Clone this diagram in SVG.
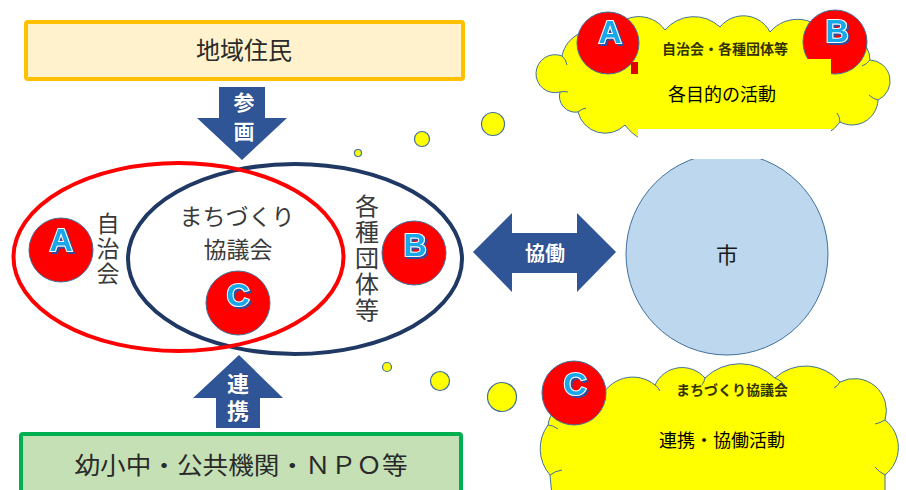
<svg xmlns="http://www.w3.org/2000/svg" width="906" height="490" viewBox="0 0 906 490">
<defs>
<filter id="sh" x="-30%" y="-30%" width="160%" height="160%">
<feDropShadow dx="2" dy="2" stdDeviation="0" flood-color="#2E4FA0" flood-opacity="1"/>
</filter>
</defs>
<style>
.jp{font-family:"Noto Sans CJK JP","Noto Sans",sans-serif;}
.lbl{font-family:"Noto Sans CJK JP",sans-serif;font-size:23px;fill:#3a3a3a;text-anchor:middle;dominant-baseline:central;}
.vlbl{font-family:"Noto Sans CJK JP",sans-serif;fill:#3a3a3a;writing-mode:vertical-rl;text-anchor:start;}
.arrtxt{font-family:"Noto Sans CJK JP",sans-serif;font-weight:bold;fill:#ffffff;text-anchor:middle;dominant-baseline:central;stroke:#1f3d75;stroke-width:0.6;paint-order:stroke;}
.varrtxt{font-family:"Noto Sans CJK JP",sans-serif;font-weight:bold;fill:#ffffff;writing-mode:vertical-rl;text-anchor:start;stroke:#1f3d75;stroke-width:0.6;paint-order:stroke;}
.arrow{fill:#2F5597;}
.badge{fill:#FF0000;stroke:#41719C;stroke-width:1;}
.let{font-family:"Liberation Sans",Arial,sans-serif;font-weight:bold;font-size:32px;text-anchor:middle;dominant-baseline:central;fill:#18A8E8;stroke:#ffffff;stroke-width:2;paint-order:stroke;filter:url(#sh);}
.cloud{fill:#FFFF00;stroke:#41719C;stroke-width:1;}
.inner{fill:none;stroke:#41719C;stroke-width:1;}
.bub{fill:#FFFF00;stroke:#41719C;stroke-width:1.2;}
.ctitle{font-family:"Noto Sans CJK JP",sans-serif;font-weight:bold;font-size:14px;fill:#333300;text-anchor:middle;dominant-baseline:central;}
.ctext{font-family:"Noto Sans CJK JP",sans-serif;font-size:18px;fill:#000000;text-anchor:middle;dominant-baseline:central;}
</style>

<g id="residents">
<rect x="26" y="22" width="437" height="57" rx="2" fill="#FFF2CC" stroke="#FFC000" stroke-width="4"/>
<text class="jp" x="244" y="48" font-size="24" fill="#2a2a2a" text-anchor="middle" dominant-baseline="central">地域住民</text>
</g>

<g id="partners">
<rect x="21" y="434" width="440" height="70" rx="2" fill="#C5E0B4" stroke="#00B050" stroke-width="4"/>
<text class="jp" x="241" y="463" font-size="24" fill="#2a2a2a" text-anchor="middle" dominant-baseline="central" textLength="333" lengthAdjust="spacingAndGlyphs">幼小中・公共機関・ＮＰＯ等</text>
</g>

<g id="connectors">
<g id="arrow-sankaku">
<polygon class="arrow" points="219,87 265,87 265,118 287,118 242,160 197,118 219,118"/>
<text class="varrtxt" x="244" y="92" font-size="21" letter-spacing="8">参画</text>
</g>
<g id="arrow-renkei">
<polygon class="arrow" points="239,355 283,398 260,398 260,428 216,428 216,398 193,398"/>
<text class="varrtxt" x="238" y="373" font-size="22" letter-spacing="5">連携</text>
</g>
<g id="arrow-kyodo">
<polygon class="arrow" points="473,252 512,213 512,233 577,233 577,213 616,252 577,292 577,273 512,273 512,292"/>
<text class="arrtxt" x="545" y="252" font-size="20">協働</text>
</g>
<g id="bubbles">
<circle class="bub" cx="358" cy="153" r="3.5"/>
<circle class="bub" cx="422" cy="139" r="7.5"/>
<circle class="bub" cx="493" cy="124" r="11.5"/>
<circle class="bub" cx="387" cy="367" r="4.5"/>
<circle class="bub" cx="440" cy="381" r="9.5"/>
<circle class="bub" cx="502" cy="397" r="14.5"/>
</g>
</g>

<g id="groups">
<ellipse cx="295" cy="259" rx="167" ry="95" fill="none" stroke="#1F3864" stroke-width="4"/>
<ellipse cx="178.5" cy="257" rx="165" ry="94" fill="none" stroke="#FF0000" stroke-width="4"/>
</g>

<g id="jichikai">
<text class="vlbl" x="108" y="212" font-size="23" letter-spacing="2">自治会</text>
<circle class="badge" cx="61" cy="250" r="32"/>
<text class="let" x="61" y="240">A</text>
</g>

<g id="machizukuri">
<text class="lbl" x="237" y="215" font-size="24">まちづくり</text>
<text class="lbl" x="238" y="248" font-size="24">協議会</text>
<circle class="badge" cx="238" cy="303" r="32"/>
<text class="let" x="238" y="295">C</text>
</g>

<g id="dantai">
<text class="vlbl" x="367" y="194" font-size="24" letter-spacing="2">各種団体等</text>
<circle class="badge" cx="414" cy="253" r="32"/>
<text class="let" x="415" y="245">B</text>
</g>

<g id="city">
<circle cx="727" cy="254" r="101" fill="#BDD7EE" stroke="#41719C" stroke-width="1"/>
<text class="jp" x="727" y="253" font-size="22" fill="#1a1a1a" text-anchor="middle" dominant-baseline="central">市</text>
</g>

<g id="cloud-top">
<path class="cloud" d="M 560,92 A 19 19 0 1 1 562,56 A 32 32 0 0 1 610,35 A 32 32 0 0 1 665,30 A 38 38 0 0 1 720,27 A 30 30 0 0 1 770,32 A 36 36 0 0 1 830,40 A 25 25 0 0 1 870,60 A 21 21 0 0 1 878,100 A 26 26 0 0 1 840,122 A 40 40 0 0 1 780,128 A 55 55 0 0 1 700,128 A 48 48 0 0 1 625,125 A 28 28 0 0 1 578,112 A 16 16 0 0 1 560,92 Z"/>
<path class="inner" d="M 562,56 q 4,3 5,9 M 870,60 q -3,4 -8,6 M 878,100 q -5,-1 -9,-5 M 840,122 q 0,-5 -3,-9 M 578,112 q 3,-3 8,-4 M 560,92 q 4,-1 8,0"/>
<circle class="badge" cx="608" cy="43" r="31"/>
<text class="let" x="610" y="32">A</text>
<circle class="badge" cx="835" cy="42" r="32"/>
<text class="let" x="837" y="31">B</text>
<rect x="631" y="62" width="7" height="12" fill="#E00000"/>
<rect x="638" y="59" width="193" height="70" fill="#FFFF00"/>
<rect x="638" y="129" width="193" height="30" fill="#FFFFFF"/>
<text class="ctitle" x="725" y="48">自治会・各種団体等</text>
<text class="ctext" x="722" y="93">各目的の活動</text>
</g>

<g id="cloud-bottom">
<path class="cloud" d="M 550,475 A 40 40 0 0 1 548,425 A 35 35 0 0 1 600,400 A 35 35 0 0 1 655,385 A 30 30 0 0 1 705,378 A 50 50 0 0 1 775,378 A 45 45 0 0 1 840,382 A 32 32 0 0 1 885,420 A 35 35 0 0 1 885,475 L 885,496 L 552,496 Z"/>
<path class="inner" d="M 548,425 q 5,0 10,4 M 775,378 q 6,2 10,8 M 840,382 q -2,4 -6,6 M 885,420 q -5,3 -10,4 M 885,475 q -6,-3 -10,-8 M 655,385 q 3,2 5,6 M 705,378 q -1,4 -3,7 M 550,475 q 5,-4 12,-5"/>
<circle class="badge" cx="574" cy="393" r="32"/>
<text class="let" x="575" y="384">C</text>
<text class="ctitle" x="732" y="389">まちづくり協議会</text>
<text class="ctext" x="722" y="439">連携・協働活動</text>
</g>
</svg>
